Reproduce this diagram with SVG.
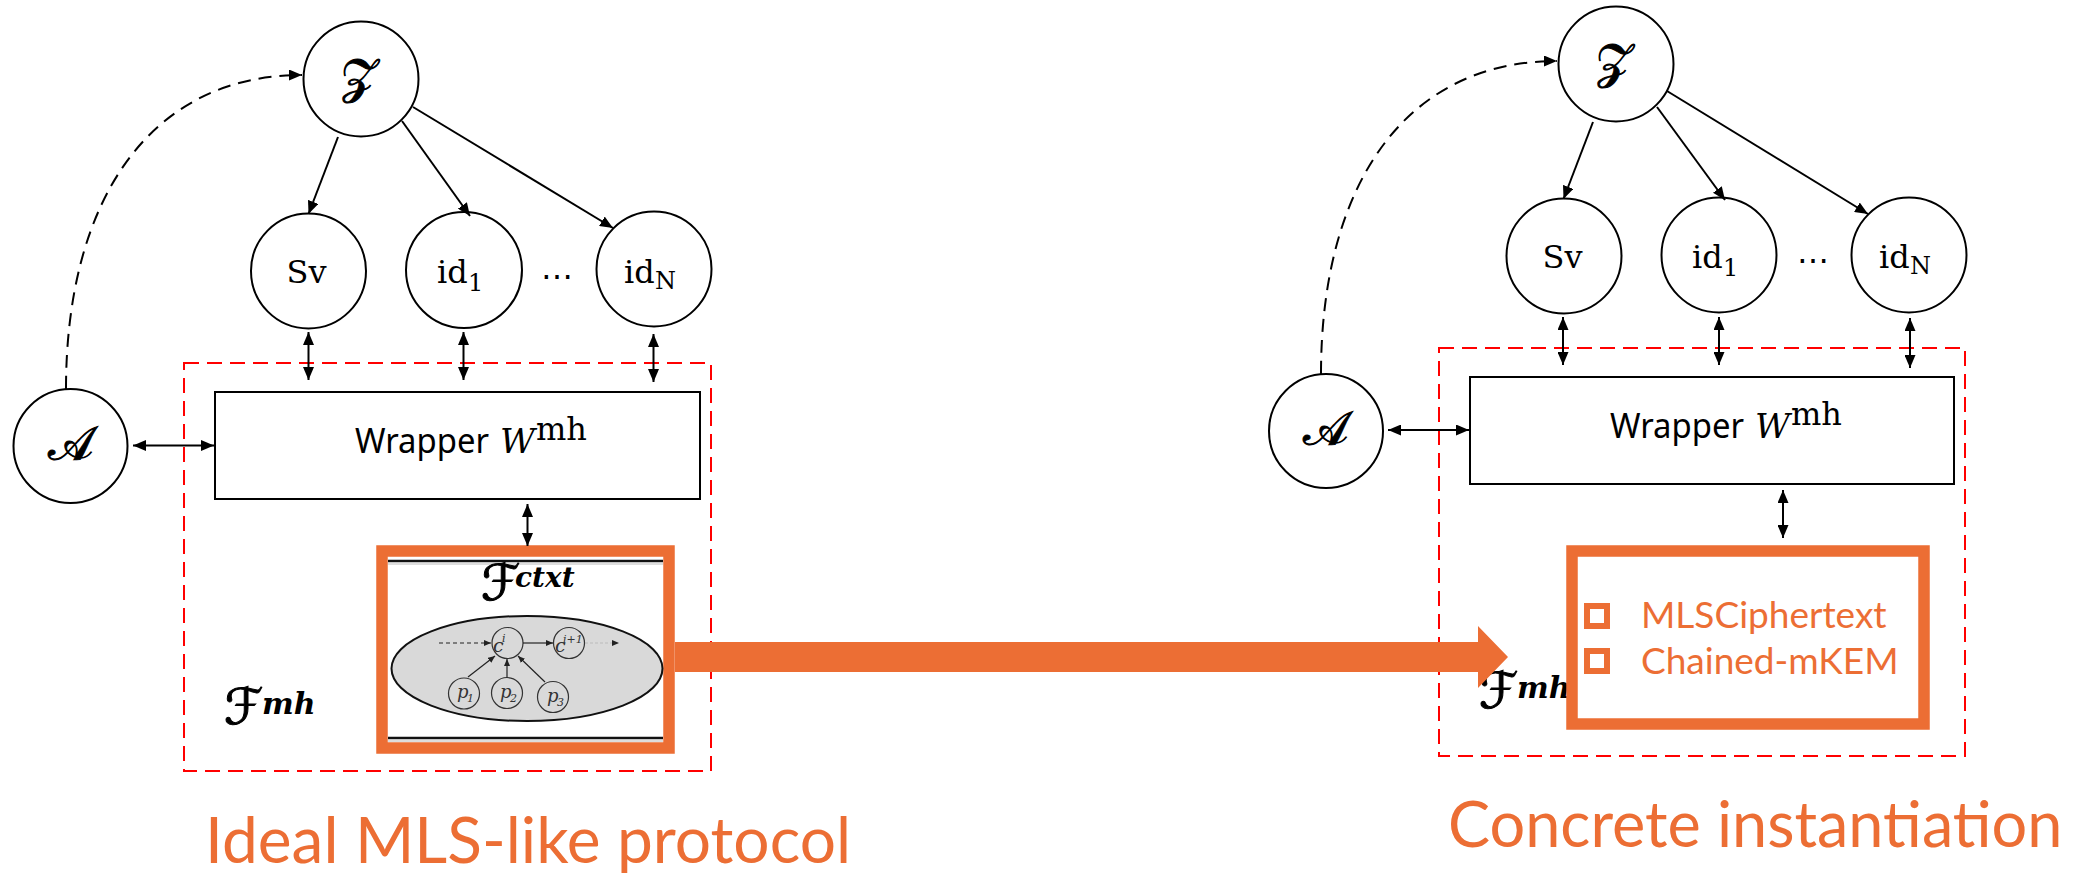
<svg xmlns="http://www.w3.org/2000/svg" width="2090" height="873" viewBox="0 0 2090 873">
<defs>
<style>
.node{fill:#fff;stroke:#000;stroke-width:2}
.conn{fill:none;stroke:#000;stroke-width:2}
.thin{fill:none;stroke:#222;stroke-width:1.2}
.dash{stroke-dasharray:13 8}
.red{fill:none;stroke:#ff0000;stroke-width:2;stroke-dasharray:15 8}
.obox{fill:#fff;stroke:#EC6E34;stroke-width:11.5}
.lbl{font-family:"DejaVu Serif","Liberation Serif",serif;font-size:32px;fill:#000}
.cal{font-family:"DejaVu Serif","DejaVu Sans","Noto Sans",serif;fill:#000;stroke:#000;stroke-width:1}
.it{font-family:"DejaVu Serif","Liberation Serif",serif;font-style:italic;fill:#000}
.wrap{font-family:"Noto Sans","Liberation Sans",sans-serif;font-size:34px;fill:#000}
.olbl{font-family:Lato,"Liberation Sans",sans-serif;fill:#EC6E34}
.small{font-family:"DejaVu Serif","Liberation Serif",serif;font-style:italic;fill:#333}
</style>
<marker id="ah" viewBox="0 0 13 11" refX="13" refY="5.5" markerWidth="13" markerHeight="11" markerUnits="userSpaceOnUse" orient="auto-start-reverse"><path d="M0,0L13,5.5L0,11z" fill="#000"/></marker>
<marker id="ahs" viewBox="0 0 7 6" refX="7" refY="3" markerWidth="7" markerHeight="6" markerUnits="userSpaceOnUse" orient="auto-start-reverse"><path d="M0,0L7,3L0,6z" fill="#222"/></marker>
</defs>
<rect width="2090" height="873" fill="#fff"/>

<!-- LEFT: ideal -->
<g id="left-Fmh-box">
<rect class="red" x="184" y="363" width="527" height="408"/>
<text x="224" y="724"><tspan class="cal" font-size="50">ℱ</tspan><tspan class="it" x="262" y="714" font-size="30" font-weight="bold">mh</tspan></text>
</g>
<g id="left-Z"><circle class="node" cx="361" cy="79" r="57.5"/><text class="cal" x="359" y="93" font-size="48" text-anchor="middle">𝒵</text></g>
<g id="left-Sv"><circle class="node" cx="308.5" cy="271" r="57.5"/><text class="lbl" x="306.5" y="283" text-anchor="middle">Sv</text></g>
<g id="left-id1"><circle class="node" cx="464" cy="270" r="58"/><text class="lbl" x="437" y="283">id<tspan x="468" y="291" font-size="24">1</tspan></text></g>
<g id="left-dots"><text class="lbl" x="557" y="287" font-size="46" text-anchor="middle">⋯</text></g>
<g id="left-idN"><circle class="node" cx="654" cy="269" r="57.5"/><text class="lbl" x="624" y="283">id<tspan x="655" y="289" font-size="24">N</tspan></text></g>
<g id="left-A"><circle class="node" cx="70.5" cy="446" r="57"/><text class="cal" x="70" y="460" font-size="48" text-anchor="middle">𝒜</text></g>
<g id="left-wrapper"><rect class="node" x="215" y="392" width="485" height="107"/>
<text y="453"><tspan class="wrap" x="355" textLength="134" lengthAdjust="spacingAndGlyphs">Wrapper</tspan><tspan class="it" x="500" font-size="34">W</tspan><tspan class="lbl" x="536" y="440" font-size="25">mh</tspan></text></g>
<g id="left-Fctxt">
<rect class="obox" x="382" y="551" width="287" height="197"/>
<line x1="388" y1="561" x2="663" y2="561" stroke="#111" stroke-width="2.5"/>
<line x1="388" y1="564" x2="663" y2="564" stroke="#bbb" stroke-width="1"/>
<line x1="388" y1="738" x2="663" y2="738" stroke="#111" stroke-width="2.5"/>
<line x1="388" y1="741" x2="663" y2="741" stroke="#bbb" stroke-width="1"/>
<text x="481" y="600"><tspan class="cal" font-size="50">ℱ</tspan><tspan class="it" x="515" y="587" font-size="28" font-weight="bold">ctxt</tspan></text>
<ellipse cx="527" cy="668.5" rx="135.5" ry="52.5" fill="#d9d9d9" stroke="#111" stroke-width="2"/>
<circle cx="507.5" cy="643" r="15.5" fill="none" stroke="#333" stroke-width="1.2"/>
<circle cx="569" cy="643" r="15.5" fill="none" stroke="#333" stroke-width="1.2"/>
<circle cx="464" cy="693.5" r="15.5" fill="none" stroke="#333" stroke-width="1.2"/>
<circle cx="507" cy="693" r="15.5" fill="none" stroke="#333" stroke-width="1.2"/>
<circle cx="553" cy="697" r="15.5" fill="none" stroke="#333" stroke-width="1.2"/>
<text class="small" x="493" y="652" font-size="19">c<tspan x="502" y="642" font-size="11">i</tspan></text>
<text class="small" x="555" y="652" font-size="19">c<tspan x="563" y="643" font-size="11">i+1</tspan></text>
<text class="small" x="457" y="698" font-size="18">p<tspan x="467" y="702" font-size="11">1</tspan></text>
<text class="small" x="500" y="698" font-size="18">p<tspan x="510" y="702" font-size="11">2</tspan></text>
<text class="small" x="547" y="702" font-size="18">p<tspan x="557" y="706" font-size="11">3</tspan></text>
<line class="thin" x1="439" y1="643" x2="491" y2="643" stroke-dasharray="4 3" marker-end="url(#ahs)"/>
<line class="thin" x1="523" y1="643" x2="553" y2="643" marker-end="url(#ahs)"/>
<line x1="585" y1="643" x2="619" y2="643" stroke="#bbb" stroke-width="1.2" stroke-dasharray="3 2" marker-end="url(#ahs)"/>
<line class="thin" x1="468" y1="677" x2="495" y2="656" marker-end="url(#ahs)"/>
<line class="thin" x1="507" y1="677.5" x2="507" y2="659" marker-end="url(#ahs)"/>
<line class="thin" x1="545" y1="682" x2="518" y2="656" marker-end="url(#ahs)"/>
</g>

<!-- RIGHT: concrete -->
<g id="right-Fmh-box">
<rect class="red" x="1439" y="348" width="526" height="408"/>
<text x="1479" y="708"><tspan class="cal" font-size="50">ℱ</tspan><tspan class="it" x="1517" y="698" font-size="30" font-weight="bold">mh</tspan></text>
</g>
<g id="right-Z"><circle class="node" cx="1616" cy="64" r="57.5"/><text class="cal" x="1614" y="78" font-size="48" text-anchor="middle">𝒵</text></g>
<g id="right-Sv"><circle class="node" cx="1564" cy="256" r="57.5"/><text class="lbl" x="1562.5" y="268" text-anchor="middle">Sv</text></g>
<g id="right-id1"><circle class="node" cx="1719" cy="255" r="57.5"/><text class="lbl" x="1692" y="268">id<tspan x="1723" y="276" font-size="24">1</tspan></text></g>
<g id="right-dots"><text class="lbl" x="1813" y="271" font-size="46" text-anchor="middle">⋯</text></g>
<g id="right-idN"><circle class="node" cx="1909" cy="255" r="57.5"/><text class="lbl" x="1879" y="268">id<tspan x="1910" y="274" font-size="24">N</tspan></text></g>
<g id="right-A"><circle class="node" cx="1326" cy="431" r="57"/><text class="cal" x="1325" y="445" font-size="48" text-anchor="middle">𝒜</text></g>
<g id="right-wrapper"><rect class="node" x="1470" y="377" width="484" height="107"/>
<text y="438"><tspan class="wrap" x="1610" textLength="134" lengthAdjust="spacingAndGlyphs">Wrapper</tspan><tspan class="it" x="1755" font-size="34">W</tspan><tspan class="lbl" x="1791" y="425" font-size="25">mh</tspan></text></g>
<g id="right-impl">
<rect class="obox" x="1572" y="551" width="352" height="173"/>
<rect x="1587" y="606" width="20" height="20" fill="none" stroke="#EC6E34" stroke-width="6"/>
<rect x="1587" y="651" width="20" height="20" fill="none" stroke="#EC6E34" stroke-width="6"/>
<text class="olbl" x="1641" y="628" font-size="37">MLSCiphertext</text>
<text class="olbl" x="1641" y="674" font-size="37">Chained-mKEM</text>
</g>

<!-- connectors -->
<g id="connectors">
<path class="conn dash" d="M66,389 C66,200 150,75 302,75" marker-end="url(#ah)"/>
<line class="conn" x1="338" y1="137" x2="308.5" y2="214" marker-end="url(#ah)"/>
<line class="conn" x1="402" y1="121" x2="470" y2="216" marker-end="url(#ah)"/>
<line class="conn" x1="413" y1="107" x2="613" y2="228" marker-end="url(#ah)"/>
<line class="conn" x1="308.5" y1="332" x2="308.5" y2="380" marker-start="url(#ah)" marker-end="url(#ah)"/>
<line class="conn" x1="463.5" y1="332" x2="463.5" y2="380" marker-start="url(#ah)" marker-end="url(#ah)"/>
<line class="conn" x1="653.5" y1="334" x2="653.5" y2="382" marker-start="url(#ah)" marker-end="url(#ah)"/>
<line class="conn" x1="133" y1="445.5" x2="214" y2="445.5" marker-start="url(#ah)" marker-end="url(#ah)"/>
<line class="conn" x1="527.5" y1="504" x2="527.5" y2="546" marker-start="url(#ah)" marker-end="url(#ah)"/>

<path class="conn dash" d="M1321,374 C1321,185 1405,61 1557,61" marker-end="url(#ah)"/>
<line class="conn" x1="1593" y1="122" x2="1563.5" y2="199" marker-end="url(#ah)"/>
<line class="conn" x1="1657" y1="107" x2="1725" y2="200" marker-end="url(#ah)"/>
<line class="conn" x1="1667" y1="91" x2="1868" y2="214" marker-end="url(#ah)"/>
<line class="conn" x1="1563" y1="317" x2="1563" y2="365" marker-start="url(#ah)" marker-end="url(#ah)"/>
<line class="conn" x1="1719" y1="317" x2="1719" y2="365" marker-start="url(#ah)" marker-end="url(#ah)"/>
<line class="conn" x1="1910" y1="318" x2="1910" y2="368" marker-start="url(#ah)" marker-end="url(#ah)"/>
<line class="conn" x1="1388" y1="430" x2="1469" y2="430" marker-start="url(#ah)" marker-end="url(#ah)"/>
<line class="conn" x1="1783" y1="490" x2="1783" y2="538" marker-start="url(#ah)" marker-end="url(#ah)"/>

<polygon points="675,642 1478,642 1478,626 1508,657 1478,688 1478,672 675,672" fill="#EC6E34"/>
</g>

<g id="captions">
<text class="olbl" x="205" y="863" font-size="64">Ideal MLS-like protocol</text>
<text class="olbl" x="1448" y="847" font-size="63">Concrete instantiation</text>
</g>
</svg>
